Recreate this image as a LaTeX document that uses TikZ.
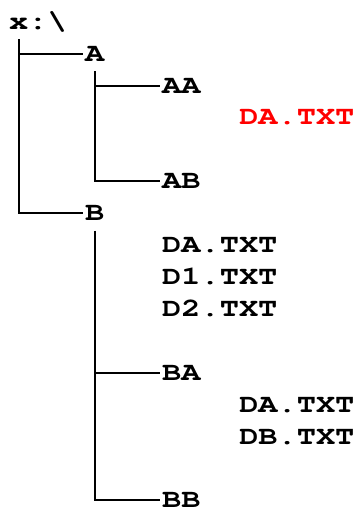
\documentclass[tikz,border=0pt]{standalone}
\usepackage[T1]{fontenc}
\usepackage{courier}
\usetikzlibrary{calc}
\tikzset{
    entry/.style={font=\fontsize{26}{26}\selectfont\ttfamily\bfseries, anchor=south west, inner sep=0pt, text height=15pt, text depth=0pt, xscale=1.23, transform shape},
    picked/.style={entry, text=red},
    branch/.style={line width=2pt, shorten >=2pt}
}

\begin{document}
\begin{tikzpicture}[x=1pt, y=-1pt]
                    \useasboundingbox (0,0) rectangle (355,513);
                    \node[entry] (root) at (9,29.5) {x:\textbackslash};
                    \node[entry] (a) at (85,61.4) {A};
                    \node[entry] (aa) at (162,93.3) {AA};
                    \node[picked] (ada) at (239,125.2) {DA.TXT};
                    \node[entry] (ab) at (162,189.0) {AB};
                    \node[entry] (b) at (85,220.9) {B};
                    \node[entry] (bda) at (162,252.8) {DA.TXT};
                    \node[entry] (bd1) at (162,284.7) {D1.TXT};
                    \node[entry] (bd2) at (162,316.6) {D2.TXT};
                    \node[entry] (ba) at (162,380.4) {BA};
                    \node[entry] (bada) at (239,412.3) {DA.TXT};
                    \node[entry] (badb) at (239,444.2) {DB.TXT};
                    \node[entry] (bb) at (162,508.0) {BB};
                    
                    \draw[branch] ($(root.south west)+(9.6,10)$) |- (a.west);
                    \draw[branch] ($(root.south west)+(9.6,10)$) |- (b.west);
                    \draw[branch] ($(a.south)+(0,10)$) |- (aa.west);
                    \draw[branch] ($(a.south)+(0,10)$) |- (ab.west);
                    \draw[branch] ($(b.south)+(0,10)$) |- (ba.west);
                    \draw[branch] ($(b.south)+(0,10)$) |- (bb.west);
                \end{tikzpicture}
\end{document}
